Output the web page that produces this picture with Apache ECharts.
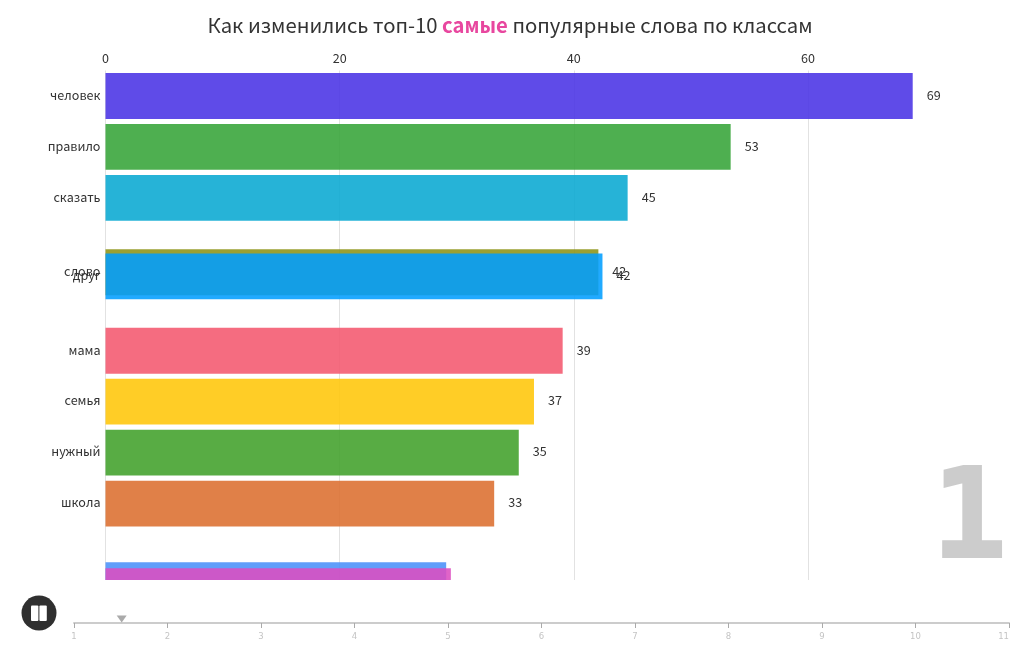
<!DOCTYPE html>
<html>
<head>
<meta charset="utf-8">
<title>bar race</title>
<script src="https://cdn.jsdelivr.net/npm/echarts@6/dist/echarts.min.js"></script>
<style>
  html, body { margin: 0; padding: 0; background: #fff; }
  #chart { width: 1020px; height: 650px; }
</style>
</head>
<body>
<div id="chart"></div>
<script>
// the frame is caught mid-animation, so ranks and bar lengths are fractional
const words = ['человек', 'правило', 'сказать', 'слово', 'друг', 'мама', 'семья', 'нужный', 'школа', 'время', 'дом']
const values = [68.95, 53.4, 44.6, 42.1, 42.45, 39.05, 36.6, 35.3, 33.2, 29.1, 29.5]
const ranks = [0, 1, 2, 3.46, 3.54, 5, 6, 7, 8, 9.6, 9.72]
const colors = ['#4831E5', '#35A337', '#07A8D1', '#8D9215', '#019EFF', '#F4576E', '#FFC607', '#40A029', '#DB6E2E', '#4990F9', '#DB4EC0']
const timelineTicks = [1, 2, 3, 4, 5, 6, 7, 8, 9, 10, 11]
const timelinePosition = 1.51
const currentClass = '1'

const FONT = '"Noto Sans CJK SC", "Noto Sans", sans-serif'
const TEXT_COLOR = '#333'

const chart = echarts.init(document.getElementById('chart'))

function renderBar(params, api) {
  const value = api.value(0)
  const rank = api.value(1)
  const start = api.coord([0, rank])
  const end = api.coord([value, rank])
  const height = api.size([0, 1])[1] * 0.9
  const cs = params.coordSys
  const rect = echarts.graphic.clipRectByRect(
    { x: start[0], y: start[1] - height / 2, width: end[0] - start[0], height },
    { x: cs.x, y: cs.y, width: cs.width, height: cs.height }
  )
  if (!rect) return null

  const children = [{
    type: 'rect',
    shape: rect,
    style: { fill: colors[params.dataIndex], opacity: 0.875 }
  }]
  // labels of the bars still sliding in stay hidden
  if (rank < 9.5) {
    children.push({
      type: 'text',
      style: {
        x: start[0] - 5, y: start[1] - 1, text: words[params.dataIndex],
        align: 'right', verticalAlign: 'middle',
        font: '12.6px ' + FONT, fill: TEXT_COLOR
      }
    }, {
      type: 'text',
      style: {
        x: end[0] + 14, y: end[1] - 1, text: String(Math.round(value)),
        align: 'left', verticalAlign: 'middle',
        font: '12.6px ' + FONT, fill: TEXT_COLOR
      }
    })
  }
  return { type: 'group', children }
}

chart.setOption({
  animation: false,
  title: {
    left: 'center',
    top: 10,
    text: 'Как изменились топ-10 {hl|самые} популярные слова по классам',
    textStyle: {
      fontFamily: FONT, fontSize: 20.3, fontWeight: 'normal', color: TEXT_COLOR,
      rich: { hl: { fontFamily: FONT, fontSize: 20.3, fontWeight: 'bold', color: '#E8479F' } }
    }
  },
  grid: [
    { left: 105.5, top: 70.5, width: 819.5, height: 509.5 },
    { left: 74, top: 613, width: 935, height: 10 }
  ],
  xAxis: [
    {
      type: 'value', gridIndex: 0, position: 'top', min: 0, max: 70, interval: 20,
      axisLine: { show: false },
      axisTick: { show: false },
      axisLabel: { showMaxLabel: false, margin: 6, fontFamily: FONT, fontSize: 12.6, color: TEXT_COLOR },
      splitLine: { showMaxLine: false, lineStyle: { color: '#e2e2e2', width: 1 } }
    },
    {
      type: 'value', gridIndex: 1, min: timelineTicks[0], max: timelineTicks[timelineTicks.length - 1], interval: 1,
      axisLine: { onZero: false, lineStyle: { color: '#ccc', width: 2 } },
      axisTick: { length: 5, lineStyle: { color: '#aaa', width: 1 } },
      axisLabel: { margin: 9, alignMaxLabel: 'right', fontFamily: 'DejaVu Sans', fontSize: 8.5, color: '#c4c4c4' },
      splitLine: { show: false }
    }
  ],
  yAxis: [
    { type: 'value', gridIndex: 0, inverse: true, min: -0.5, max: 9.5, show: false },
    { type: 'value', gridIndex: 1, min: 0, max: 1, show: false }
  ],
  series: [
    {
      type: 'custom',
      xAxisIndex: 0,
      yAxisIndex: 0,
      renderItem: renderBar,
      encode: { x: 0, y: 1 },
      data: values.map((v, i) => [v, ranks[i]]),
      z: 3
    },
    {
      type: 'scatter',
      xAxisIndex: 1,
      yAxisIndex: 1,
      symbol: 'triangle',
      symbolRotate: 180,
      symbolSize: [10, 7],
      itemStyle: { color: '#aaa', opacity: 1 },
      data: [[timelinePosition, 0.4]],
      silent: true
    }
  ],
  graphic: [
    {
      type: 'text', right: 12, top: 461, silent: true,
      style: { text: currentClass, font: 'bold 125px "DejaVu Sans Mono"', fill: '#ccc', stroke: '#ccc', lineWidth: 2 }
    },
    {
      type: 'group', left: 21.5, top: 595.5,
      children: [
        { type: 'circle', shape: { cx: 17.5, cy: 17.5, r: 17.5 }, style: { fill: '#2f2f2f' } },
        { type: 'rect', shape: { x: 9.5, y: 10, width: 7.4, height: 15.5, r: 1 }, style: { fill: '#fff' } },
        { type: 'rect', shape: { x: 17.9, y: 10, width: 7.4, height: 15.5, r: 1 }, style: { fill: '#fff' } }
      ]
    }
  ]
})
</script>
</body>
</html>
